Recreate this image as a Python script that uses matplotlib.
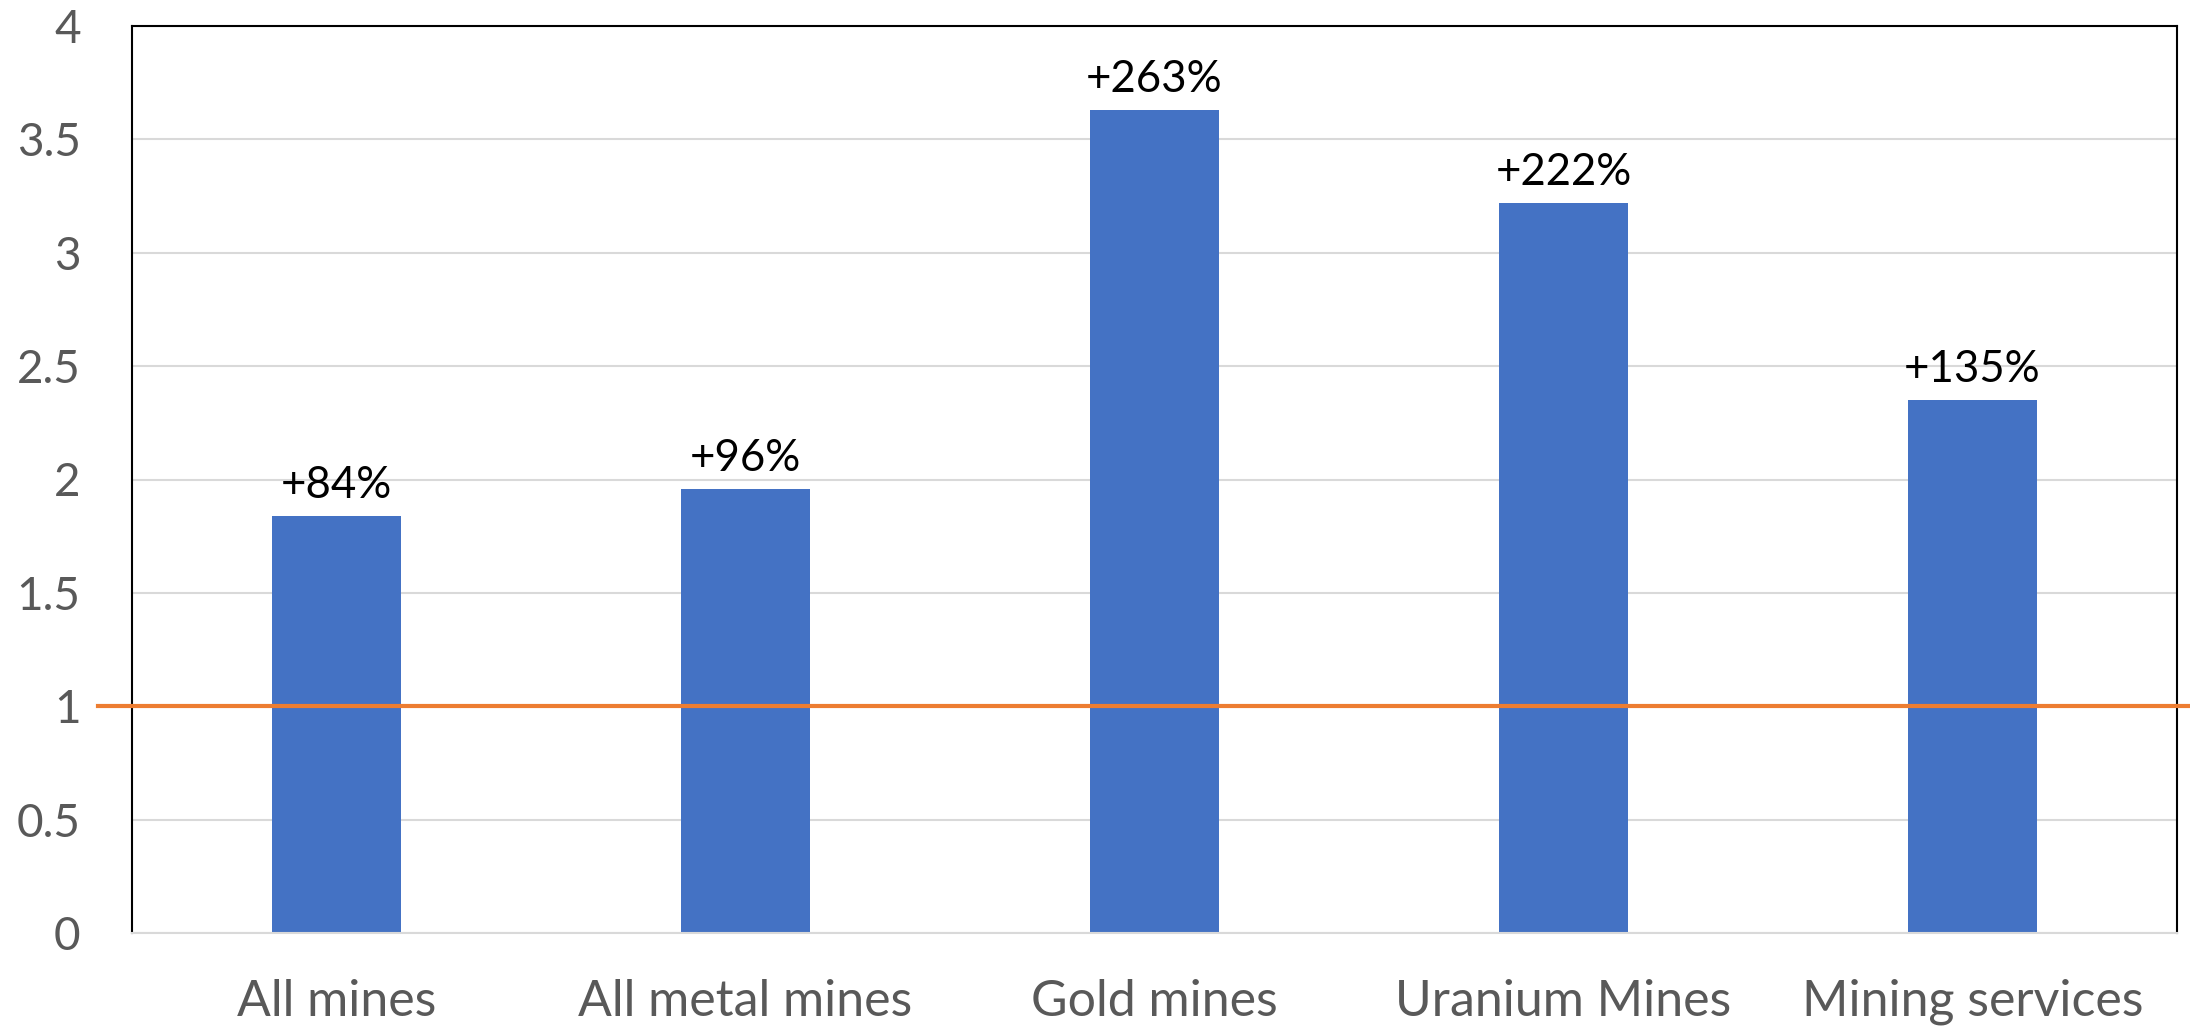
import numpy as np
import matplotlib
matplotlib.use('Agg')
import matplotlib.pyplot as plt

# growth of each mining group, relative to baseline (1 = unchanged)
categories = ['All mines', 'All metal mines', 'Gold mines', 'Uranium Mines', 'Mining services']
ratios = [1.84, 1.96, 3.63, 3.22, 2.35]
yticks = [0, 0.5, 1, 1.5, 2, 2.5, 3, 3.5, 4]
ytick_labels = ['0', '0.5', '1', '1.5', '2', '2.5', '3', '3.5', '4']
baseline = 1

plt.rcParams['font.family'] = ['Lato', 'DejaVu Sans']

fig = plt.figure(figsize=(21.9, 10.29), dpi=100)
ax = fig.add_axes([132 / 2190, 96 / 1029, 2045 / 2190, 907 / 1029])

x = np.arange(len(categories))
ax.bar(x, ratios, width=0.315, color='#4472C4', zorder=2)

# reference line at 1, runs a bit past the frame on both sides
ax.axhline(baseline, xmin=-0.0166, xmax=1.0064, color='#ED7D31', lw=3, clip_on=False, zorder=3)

for xi, r in zip(x, ratios):
    ax.annotate('+{:.0f}%'.format((r - 1) * 100), (xi, r), xytext=(0, 13),
                textcoords='offset points', ha='center', va='baseline',
                fontsize=31.5, color='black')

ax.set_xlim(-0.5, len(categories) - 0.5)
ax.set_ylim(0, 4)
ax.set_yticks(yticks)
ax.set_yticklabels(ytick_labels)
ax.set_xticks(x)
ax.set_xticklabels(categories)
ax.tick_params(axis='y', length=0, pad=37, labelsize=33, labelcolor='#595959')
ax.tick_params(axis='x', length=0, pad=33, labelsize=36, labelcolor='#595959')

ax.yaxis.grid(True, color='#d9d9d9', lw=1.5, zorder=0)
ax.set_axisbelow(True)

for side in ['left', 'top', 'right']:
    ax.spines[side].set_color('black')
    ax.spines[side].set_linewidth(1.5)
ax.spines['bottom'].set_color('#d9d9d9')
ax.spines['bottom'].set_linewidth(1.5)

plt.savefig('out.png', dpi=100)
